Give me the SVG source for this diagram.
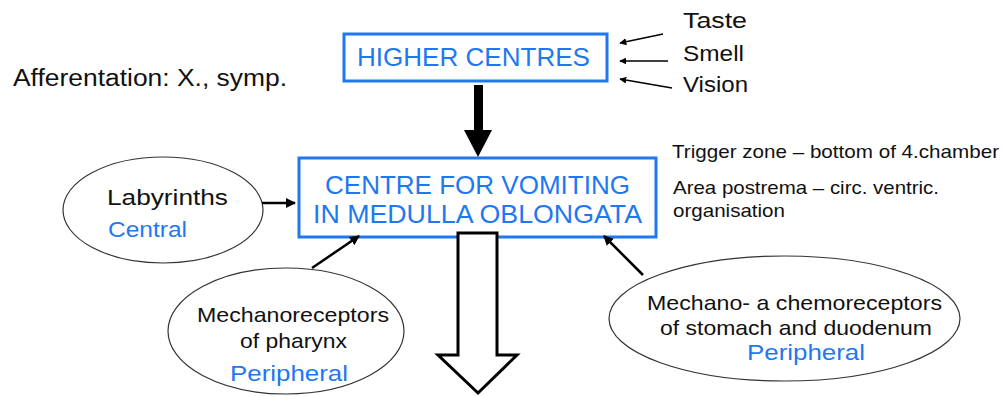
<svg xmlns="http://www.w3.org/2000/svg" width="1006" height="396" viewBox="0 0 1006 396">
  <defs>
    <marker id="head" viewBox="0 0 10 10" refX="9" refY="5" markerWidth="7" markerHeight="7" markerUnits="userSpaceOnUse" orient="auto">
      <path d="M0,0 L10,5 L0,10 Z" fill="#000"/>
    </marker>
    <marker id="headBig" viewBox="0 0 10 10" refX="9" refY="5" markerWidth="10" markerHeight="10" markerUnits="userSpaceOnUse" orient="auto">
      <path d="M0,0 L10,5 L0,10 Z" fill="#000"/>
    </marker>
  </defs>
  <style>
    text { font-family: "Liberation Sans", Arial, sans-serif; fill: #111; }
    .blue { fill: #1f78f0; }
    .box { fill: #fff; stroke: #1f78f0; stroke-width: 3; }
    .oval { fill: #fff; stroke: #333; stroke-width: 1.2; }
    .thin { stroke: #000; stroke-width: 1.5; fill: none; marker-end: url(#head); }
    .mid { stroke: #000; stroke-width: 2.5; fill: none; marker-end: url(#headBig); }
  </style>
  <rect width="1006" height="396" fill="#fff"/>

  <!-- free-standing notes -->
  <text x="13" y="86" font-size="23" textLength="274" lengthAdjust="spacingAndGlyphs">Afferentation: X., symp.</text>
  <text x="672" y="158" font-size="19" textLength="327" lengthAdjust="spacingAndGlyphs">Trigger zone – bottom of 4.chamber</text>
  <text x="673" y="194" font-size="19" textLength="266" lengthAdjust="spacingAndGlyphs">Area postrema – circ. ventric.</text>
  <text x="673" y="217" font-size="19" textLength="112" lengthAdjust="spacingAndGlyphs">organisation</text>

  <!-- sensory inputs to higher centres -->
  <g id="senses">
    <text x="683" y="28" font-size="22" textLength="64" lengthAdjust="spacingAndGlyphs">Taste</text>
    <text x="683" y="61" font-size="22" textLength="61" lengthAdjust="spacingAndGlyphs">Smell</text>
    <text x="683" y="92" font-size="22" textLength="65" lengthAdjust="spacingAndGlyphs">Vision</text>
  </g>

  <g id="higher-centres">
    <rect class="box" x="344" y="34" width="263" height="47"/>
    <text class="blue" x="357" y="66" font-size="25" textLength="233" lengthAdjust="spacingAndGlyphs">HIGHER CENTRES</text>
  </g>

  <g id="vomiting-centre">
    <rect class="box" x="299" y="158" width="357" height="79"/>
    <text class="blue" x="325" y="194" font-size="25" textLength="305" lengthAdjust="spacingAndGlyphs">CENTRE FOR VOMITING</text>
    <text class="blue" x="313" y="223" font-size="25" textLength="329" lengthAdjust="spacingAndGlyphs">IN MEDULLA  OBLONGATA</text>
  </g>

  <g id="labyrinths">
    <ellipse class="oval" cx="163" cy="210" rx="100" ry="53"/>
    <text x="107" y="205" font-size="22" textLength="121" lengthAdjust="spacingAndGlyphs">Labyrinths</text>
    <text class="blue" x="108" y="237" font-size="22" textLength="79" lengthAdjust="spacingAndGlyphs">Central</text>
  </g>

  <g id="pharynx">
    <ellipse class="oval" cx="286" cy="331" rx="118" ry="63"/>
    <text x="197" y="322" font-size="21" textLength="192" lengthAdjust="spacingAndGlyphs">Mechanoreceptors</text>
    <text x="240" y="348" font-size="21" textLength="107" lengthAdjust="spacingAndGlyphs">of pharynx</text>
    <text class="blue" x="230" y="381" font-size="22" textLength="118" lengthAdjust="spacingAndGlyphs">Peripheral</text>
  </g>

  <g id="stomach">
    <ellipse class="oval" cx="784.5" cy="318.5" rx="175.5" ry="62.5"/>
    <text x="647" y="310" font-size="21" textLength="295" lengthAdjust="spacingAndGlyphs">Mechano-  a chemoreceptors</text>
    <text x="660" y="335" font-size="21" textLength="272" lengthAdjust="spacingAndGlyphs">of stomach and  duodenum</text>
    <text class="blue" x="747" y="360" font-size="22" textLength="118" lengthAdjust="spacingAndGlyphs">Peripheral</text>
  </g>

  <g id="connectors">
    <line class="thin" x1="663" y1="34" x2="620" y2="43"/>
    <line class="thin" x1="668" y1="61" x2="620" y2="61"/>
    <line class="thin" x1="672" y1="88" x2="620" y2="79"/>
    <!-- heavy arrow from higher centres -->
    <rect x="474" y="85" width="9" height="46" fill="#000"/>
    <polygon points="464,130 492,130 478,157" fill="#000"/>
    <line class="mid" x1="262" y1="203" x2="295" y2="203"/>
    <line class="mid" x1="312" y1="268" x2="359" y2="236"/>
    <line class="mid" x1="643" y1="275" x2="604" y2="236"/>
    <!-- outflow arrow -->
    <polygon points="458,233 497,233 497,355 517,355 478,393 438,355 458,355" fill="#fff" stroke="#000" stroke-width="3" stroke-linejoin="miter"/>
  </g>
</svg>
